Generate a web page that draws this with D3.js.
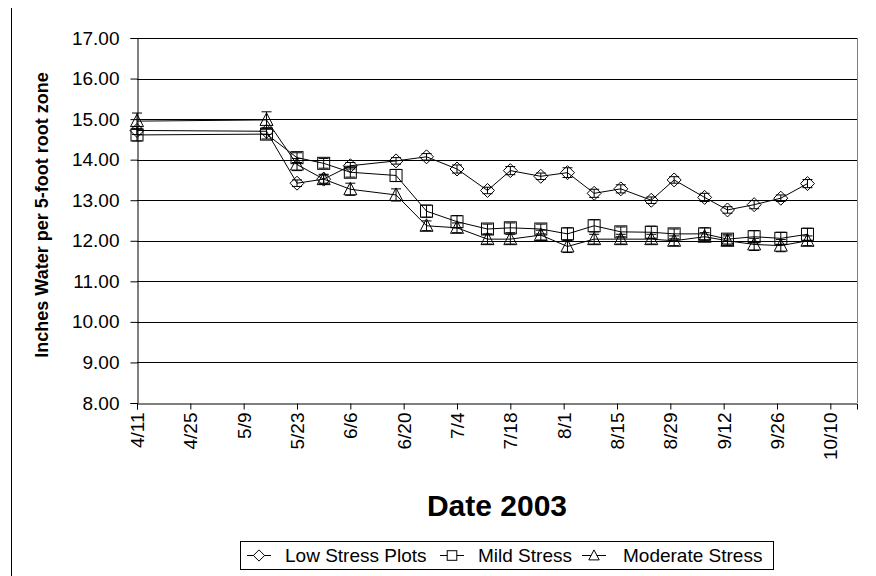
<!DOCTYPE html>
<html><head><meta charset="utf-8">
<script src="https://cdn.jsdelivr.net/npm/d3@7"></script>
<style>
body{margin:0;background:#fff;}
text{font-family:"Liberation Sans",Arial,sans-serif;fill:#000;}
</style></head>
<body>
<svg id="c" width="876" height="576"></svg>
<script>
const dates = ["4/11","5/15","5/23","5/30","6/6","6/18","6/26","7/4","7/12","7/18","7/26","8/2","8/9","8/16","8/24","8/30","9/7","9/13","9/20","9/27","10/4"];
const lowStress = [14.72,14.70,13.42,13.52,13.85,13.97,14.07,13.77,13.24,13.73,13.59,13.68,13.17,13.28,13.00,13.50,13.07,12.76,12.89,13.05,13.41];
const mildStress = [14.61,14.63,14.05,13.91,13.69,13.61,12.73,12.47,12.29,12.32,12.29,12.17,12.37,12.22,12.21,12.17,12.17,12.04,12.10,12.06,12.16];
const moderateStress = [14.95,14.98,13.88,13.52,13.27,13.13,12.37,12.32,12.04,12.04,12.14,11.86,12.04,12.04,12.04,12.00,12.10,12.00,11.91,11.88,12.00];
const lowErr = [0.10,0.08,0.08,0.10,0.08,0.08,0.08,0.10,0.08,0.10,0.08,0.12,0.10,0.10,0.08,0.08,0.10,0.08,0.10,0.08,0.10];
const mildErr = [0.15,0.12,0.12,0.12,0.12,0.15,0.15,0.15,0.12,0.12,0.12,0.15,0.15,0.12,0.15,0.12,0.15,0.12,0.15,0.15,0.15];
const modErr = [0.20,0.20,0.15,0.12,0.15,0.15,0.12,0.12,0.12,0.12,0.12,0.15,0.12,0.12,0.12,0.12,0.10,0.12,0.15,0.15,0.12];
const xTickLabels = ["4/11","4/25","5/9","5/23","6/6","6/20","7/4","7/18","8/1","8/15","8/29","9/12","9/26","10/10"];
const yTicks = [8,9,10,11,12,13,14,15,16,17];
const seriesNames = ["Low Stress Plots","Mild Stress","Moderate Stress"];

const parse = s => { const [m,d] = s.split("/").map(Number); return new Date(2003, m-1, d); };
const svg = d3.select("#c");
const L = 137, R = 857, T = 38, B = 403;
const x = d3.scaleTime().domain([new Date(2003,3,11), new Date(2003,9,17)]).range([L, R]);
const y = d3.scaleLinear().domain([8,17]).range([B, T]);

// chart area left border
svg.append("line").attr("x1",11.5).attr("x2",11.5).attr("y1",8).attr("y2",576).attr("stroke","#000").attr("stroke-width",1);

// gridlines
svg.append("g").selectAll("line").data(yTicks.filter(v=>v>8)).join("line")
  .attr("x1",L).attr("x2",R).attr("y1",d=>Math.round(y(d))+0.5).attr("y2",d=>Math.round(y(d))+0.5)
  .attr("stroke","#000").attr("stroke-width",1);
// right border
svg.append("line").attr("x1",R+0.5).attr("x2",R+0.5).attr("y1",T).attr("y2",B).attr("stroke","#808080");

// y axis
const yAxis = d3.axisLeft(y).tickValues(yTicks).tickFormat(d3.format(".2f")).tickSizeOuter(0).tickSize(7).tickPadding(11);
const gy = svg.append("g").attr("transform",`translate(${L+0.5},0)`).call(yAxis);
gy.selectAll("text").style("font-size","19px");
gy.selectAll("line,path").attr("stroke","#000");

// x axis
const xAxis = d3.axisBottom(x).tickValues(xTickLabels.map(parse)).tickFormat((d,i)=>xTickLabels[i]).tickSizeOuter(0).tickSize(6);
const gx = svg.append("g").attr("transform",`translate(0,${B+0.5})`).call(xAxis);
gx.selectAll("line,path").attr("stroke","#000");
gx.selectAll("text").style("font-size","19px").attr("transform","rotate(-90)")
  .attr("text-anchor","end").attr("x",-9).attr("y",0).attr("dy","0.35em");

// titles
svg.append("text").attr("transform","translate(48,215) rotate(-90)").attr("text-anchor","middle")
  .style("font-size","18px").style("font-weight","bold").text("Inches Water per 5-foot root zone");
svg.append("text").attr("x",497).attr("y",516).attr("text-anchor","middle")
  .style("font-size","30px").style("font-weight","bold").text("Date 2003");

// markers
const shapes = {
  diamond: (g)=>g.append("path").attr("d","M0,-7L7,0L0,7L-7,0Z"),
  square: (g)=>g.append("rect").attr("x",-6).attr("y",-6).attr("width",12).attr("height",12),
  triangle: (g)=>g.append("path").attr("d","M0,-7L6.5,5.5L-6.5,5.5Z")
};
const series = [
  {name:seriesNames[0], vals:lowStress, err:lowErr, shape:"diamond"},
  {name:seriesNames[1], vals:mildStress, err:mildErr, shape:"square"},
  {name:seriesNames[2], vals:moderateStress, err:modErr, shape:"triangle"}
];
const line = d3.line().x(d=>x(d.date)).y(d=>y(d.v));
series.forEach(s=>{
  const pts = dates.map((d,i)=>({date:parse(d), v:s.vals[i], e:s.err[i]}));
  const g = svg.append("g");
  g.append("path").datum(pts).attr("d",line).attr("fill","none").attr("stroke","#000").attr("stroke-width",1);
  const eb = g.append("g").selectAll("g").data(pts).join("g").attr("stroke","#000").attr("stroke-width",1);
  eb.append("line").attr("x1",d=>x(d.date)).attr("x2",d=>x(d.date)).attr("y1",d=>y(d.v-d.e)).attr("y2",d=>y(d.v+d.e));
  eb.append("line").attr("x1",d=>x(d.date)-5).attr("x2",d=>x(d.date)+5).attr("y1",d=>y(d.v-d.e)).attr("y2",d=>y(d.v-d.e));
  eb.append("line").attr("x1",d=>x(d.date)-5).attr("x2",d=>x(d.date)+5).attr("y1",d=>y(d.v+d.e)).attr("y2",d=>y(d.v+d.e));
  g.append("g").selectAll("g").data(pts).join("g")
    .attr("transform",d=>`translate(${x(d.date)},${y(d.v)})`)
    .each(function(){ shapes[s.shape](d3.select(this)).attr("fill","none").attr("stroke","#000").attr("stroke-width",1); });
});

// legend
const lg = svg.append("g");
lg.append("rect").attr("x",240.5).attr("y",541.5).attr("width",533).attr("height",28).attr("fill","#fff").attr("stroke","#000");
const items = [{cx:259, tx:285}, {cx:452, tx:478}, {cx:594, tx:623}];
series.forEach((s,i)=>{
  const it = items[i];
  lg.append("line").attr("x1",it.cx-12).attr("x2",it.cx+12).attr("y1",555.5).attr("y2",555.5).attr("stroke","#000");
  const m = lg.append("g").attr("transform",`translate(${it.cx},555.5) scale(0.8)`);
  shapes[s.shape](m).attr("fill","#fff").attr("stroke","#000").attr("stroke-width",1.25);
  lg.append("text").attr("x",it.tx).attr("y",562).style("font-size","19px").text(s.name);
});
</script>
</body></html>
